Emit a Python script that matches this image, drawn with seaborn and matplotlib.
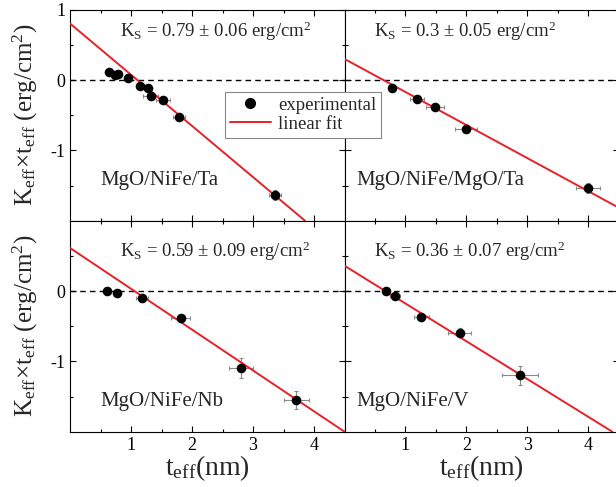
import matplotlib
matplotlib.use("Agg")
import numpy as np
import pandas as pd
import seaborn as sns
from matplotlib import pyplot as plt
from matplotlib.lines import Line2D

# MgO/NiFe/Ta
ta_t = [0.63, 0.74, 0.79, 0.94, 1.15, 1.27, 1.32, 1.52, 1.79, 3.36]
ta_k = [0.11, 0.07, 0.08, 0.03, -0.09, -0.11, -0.22, -0.29, -0.52, -1.64]
ta_terr = [0.03, 0.04, 0.04, 0.05, 0.06, 0.06, 0.12, 0.12, 0.1, 0.1]
ta_kerr = [0.02, 0.03, 0.03, 0.03, 0.04, 0.04, 0.05, 0.05, 0.05, 0.07]

# MgO/NiFe/MgO/Ta
mt_t = [0.78, 1.19, 1.49, 1.99, 4.0]
mt_k = [-0.12, -0.27, -0.39, -0.69, -1.54]
mt_terr = [0.05, 0.12, 0.15, 0.18, 0.2]
mt_kerr = [0.03, 0.03, 0.04, 0.06, 0.07]

# MgO/NiFe/Nb
nb_t = [0.60, 0.76, 1.18, 1.81, 2.80, 3.71]
nb_k = [0.0, -0.03, -0.10, -0.39, -1.09, -1.55]
nb_terr = [0.04, 0.05, 0.1, 0.16, 0.2, 0.2]
nb_kerr = [0.02, 0.03, 0.04, 0.05, 0.14, 0.13]

# MgO/NiFe/V
v_t = [0.68, 0.83, 1.26, 1.89, 2.88]
v_k = [0.0, -0.07, -0.37, -0.59, -1.2]
v_terr = [0.04, 0.08, 0.12, 0.19, 0.3]
v_kerr = [0.02, 0.03, 0.04, 0.06, 0.14]

# linear fits: intercept, slope
fit_b = [0.80, 0.30, 0.61, 0.36]
fit_m = [-0.727, -0.47, -0.58, -0.537]

ks_text = ["0.79 \u00b1 0.06", "0.3 \u00b1 0.05", "0.59 \u00b1 0.09", "0.36 \u00b1 0.07"]
samples = ["MgO/NiFe/Ta", "MgO/NiFe/MgO/Ta", "MgO/NiFe/Nb", "MgO/NiFe/V"]

sns.set_theme(style="ticks")
plt.rcParams["font.family"] = ["Liberation Serif", "DejaVu Serif"]
plt.rcParams["mathtext.fontset"] = "custom"
plt.rcParams["mathtext.rm"] = "Liberation Serif"
plt.rcParams["mathtext.it"] = "Liberation Serif:italic"
plt.rcParams["axes.unicode_minus"] = False
plt.rcParams["xtick.direction"] = "in"
plt.rcParams["ytick.direction"] = "in"

fig = plt.figure(figsize=(6.16, 4.87), dpi=100)
W = 274.2 / 616
H = 211 / 487
lefts = [70.3 / 616, (70.3 + 274.2) / 616]
bottoms = [1 - 220.7 / 487, 1 - 431.7 / 487]

panels = [
    (ta_t, ta_k, ta_terr, ta_kerr),
    (mt_t, mt_k, mt_terr, mt_kerr),
    (nb_t, nb_k, nb_terr, nb_kerr),
    (v_t, v_k, v_terr, v_kerr),
]
ks_pos = [(0.182, 0.87), (0.109, 0.87), (0.182, 0.83), (0.109, 0.83)]
name_pos = [(0.109, 0.17), (0.042, 0.17), (0.109, 0.12), (0.042, 0.12)]

ylab = "$\\mathregular{K_{eff}}$\u00d7$\\mathregular{t_{eff}}$ (erg/cm$^\\mathregular{2}$)"

for i, (t, k, terr, kerr) in enumerate(panels):
    row, col = divmod(i, 2)
    ax = fig.add_axes([lefts[col], bottoms[row], W, H])
    df = pd.DataFrame({"t": t, "k": k})
    ax.errorbar(df["t"], df["k"], xerr=terr, yerr=kerr, fmt="none",
                ecolor="#8a8a8a", elinewidth=0.8, capsize=1.5, capthick=0.8, zorder=2)
    ax.axhline(0, color="black", ls=(0, (4, 3)), lw=1, zorder=1)
    ax.axline((0, fit_b[i]), slope=fit_m[i], color="#e8202a", lw=1.4, zorder=3)
    sns.scatterplot(data=df, x="t", y="k", ax=ax, color="black", s=48,
                    edgecolor="black", linewidth=0, zorder=4, legend=False)
    ax.set_xlim(0, 4.5)
    ax.set_ylim(-2, 1)
    ax.set_xticks([1, 2, 3, 4])
    ax.set_xticks([0.5, 1.5, 2.5, 3.5], minor=True)
    if row == 0:
        ax.set_yticks([-1, 0, 1])
    else:
        ax.set_yticks([-1, 0])
    ax.set_yticks([-1.5, -0.5, 0.5], minor=True)
    ax.tick_params(which="both", top=True, right=True, labelsize=13, colors="black")
    ax.tick_params(which="major", length=4.5, width=0.8)
    ax.tick_params(which="minor", length=2.5, width=0.8)
    for s in ax.spines.values():
        s.set_color("black")
        s.set_linewidth(0.8)
    if row == 0:
        ax.set_xticklabels([])
        ax.set_xlabel("")
    else:
        ax.set_xlabel("$\\mathregular{t_{eff}}$(nm)", fontsize=20)
        ax.xaxis.set_label_coords(0.5, -0.1, transform=ax.transAxes)
        ax.xaxis.label.set_va("top")
    if col == 1:
        ax.set_yticklabels([])
        ax.set_ylabel("")
    else:
        ax.set_ylabel(ylab, fontsize=18)
        ax.yaxis.set_label_coords(-0.11, 0.5)
    ax.text(ks_pos[i][0], ks_pos[i][1],
            "$\\mathregular{K_S}$ = " + ks_text[i] + " erg/cm$^\\mathregular{2}$",
            transform=ax.transAxes, fontsize=13.5, va="baseline", ha="left")
    ax.text(name_pos[i][0], name_pos[i][1], samples[i], transform=ax.transAxes,
            fontsize=15, va="baseline", ha="left")

handles = [
    Line2D([], [], ls="none", marker="o", color="black", markersize=7),
    Line2D([], [], color="#e8202a", lw=1.4),
]
leg = fig.legend(handles, ["experimental", "linear fit"], loc="upper left",
                 bbox_to_anchor=(225 / 616, 1 - 92 / 487), fontsize=13.5,
                 frameon=True, fancybox=False, framealpha=1, edgecolor="#888888",
                 handlelength=2.2, borderpad=0.25, labelspacing=0.1,
                 handletextpad=0.4, borderaxespad=0)
leg.get_frame().set_linewidth(0.8)
leg.set_zorder(10)

fig.savefig("out.png", dpi=100)
